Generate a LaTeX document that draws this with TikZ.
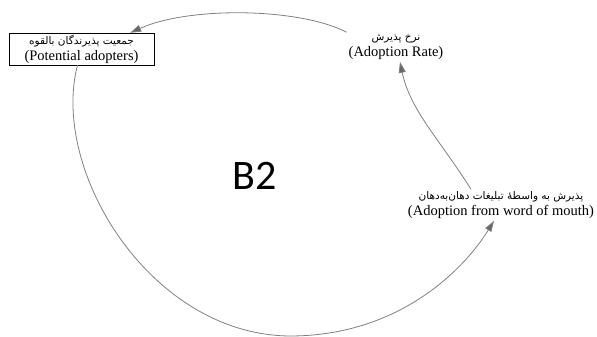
\documentclass[tikz,border=0pt]{standalone}
\usepackage{fontspec}
\setmainfont{Liberation Serif}
\newfontfamily\fa[Script=Arabic]{DejaVu Sans}
\newfontfamily\loopfont{Carlito}
\TeXXeTstate=1
\usetikzlibrary{arrows.meta}

\begin{document}
\begin{tikzpicture}[x=1pt,y=-1pt,
	var/.style={align=center,inner sep=2pt,font=\fontsize{14.5}{16}\selectfont},
	stock/.style={var,draw,minimum width=145pt,minimum height=32pt,inner sep=0pt},
	link/.style={draw=black!50,line width=0.8pt,-{Triangle[length=11pt,width=7pt,fill=black!60]}}]
	\useasboundingbox (0,0) rectangle (597,337);

	\node[stock] (pot) at (81.5,49) {{\fa\fontsize{10.5}{11}\selectfont\beginR جمعیت پذیرندگان بالقوه\endR}\\(Potential adopters)};
	\node[var] (rate) at (396,47) {{\fa\fontsize{10.5}{11}\selectfont\beginR نرخ پذیرش\endR}\\(Adoption Rate)};
	\node[var] (wom) at (501,205) {{\fa\fontsize{10.5}{11}\selectfont\beginR پذیرش به واسطهٔ تبلیغات دهان‌به‌دهان\endR}\\(Adoption from word of mouth)};
	\node[font=\loopfont\fontsize{42}{44}\selectfont] (b2) at (255,176) {B2};

	% loop
	\draw[link] (rate.north west) .. controls (300,8) and (190,6) .. ([xshift=-24pt]pot.north east);
	\draw[link] ([xshift=-4pt]pot.south) .. controls (50,170) and (150,335) .. (290,336)
	      .. controls (400,336) and (465,268) .. ([xshift=-7pt]wom.south);
	\draw[link] ([xshift=-30pt]wom.north) .. controls (440,140) and (410,110) .. ([xshift=4pt]rate.south);

\end{tikzpicture}
\end{document}
